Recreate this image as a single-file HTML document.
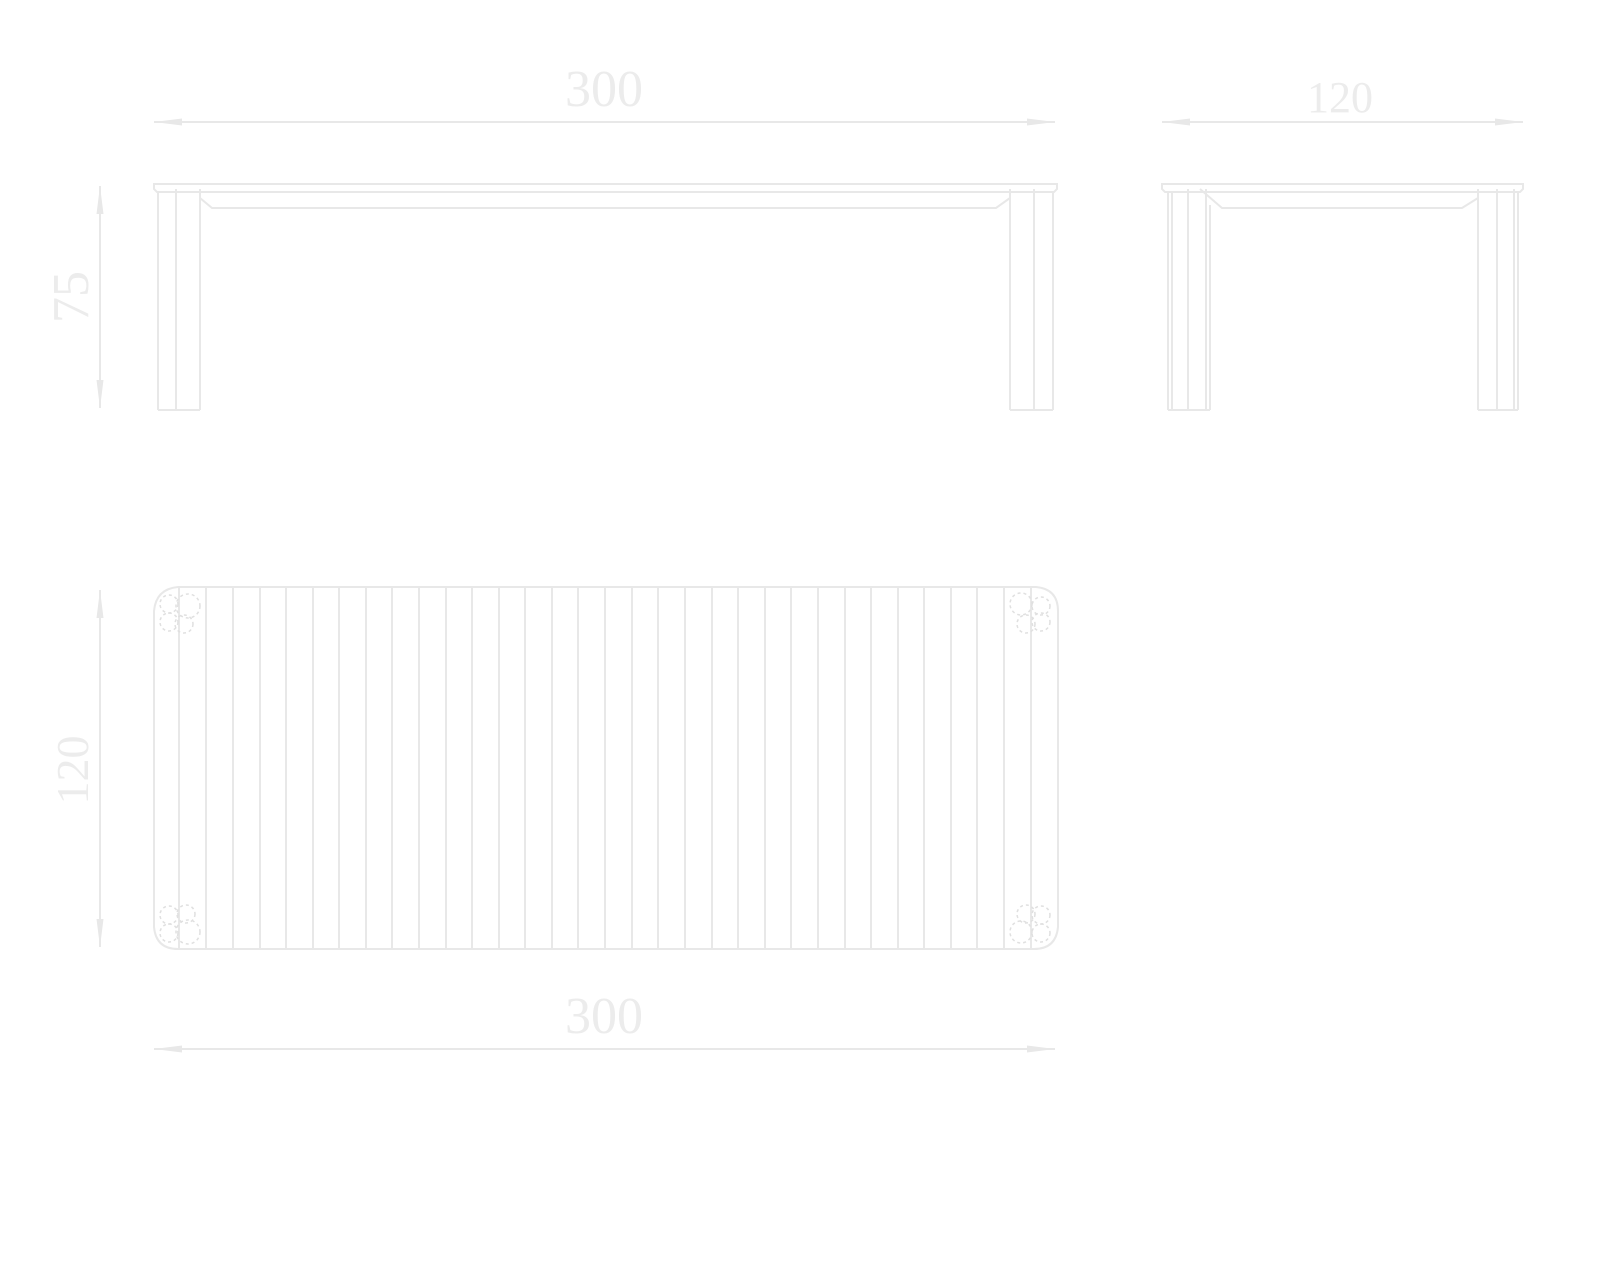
<!DOCTYPE html>
<html><head><meta charset="utf-8"><style>
html,body{margin:0;padding:0;background:#fff;width:1600px;height:1280px;overflow:hidden}
text{font-family:"Liberation Serif",serif;fill:#ececec}
</style></head><body>
<svg width="1600" height="1280" viewBox="0 0 1600 1280" xmlns="http://www.w3.org/2000/svg">
<defs>
<marker id="a" markerWidth="28" markerHeight="8" refX="0" refY="4" orient="auto" markerUnits="userSpaceOnUse">
<path d="M0,4 L28,0.5 L28,7.5 Z" fill="#e8e8e8"/></marker>
</defs>
<g stroke="#e8e8e8" stroke-width="2" fill="none">
<line x1="154" y1="122" x2="1055" y2="122" marker-start="url(#a)"/>
<path d="M1055,122 L1027,118.5 L1027,125.5Z" fill="#e8e8e8" stroke="none"/>
<line x1="1162" y1="122" x2="1523" y2="122" marker-start="url(#a)"/>
<path d="M1523,122 L1495,118.5 L1495,125.5Z" fill="#e8e8e8" stroke="none"/>
<line x1="100" y1="186" x2="100" y2="408" marker-start="url(#a)"/>
<path d="M100,408 L96.5,380 L103.5,380Z" fill="#e8e8e8" stroke="none"/>
<line x1="100" y1="590" x2="100" y2="947" marker-start="url(#a)"/>
<path d="M100,947 L96.5,919 L103.5,919Z" fill="#e8e8e8" stroke="none"/>
<line x1="154" y1="1049" x2="1055" y2="1049" marker-start="url(#a)"/>
<path d="M1055,1049 L1027,1045.5 L1027,1052.5Z" fill="#e8e8e8" stroke="none"/>

<path d="M154,184 H1057 V189 L1054,192 H157 L154,189 Z"/>
<line x1="158" y1="192" x2="158" y2="410"/>
<line x1="176" y1="189" x2="176" y2="410"/>
<line x1="200" y1="189" x2="200" y2="410"/>
<line x1="158" y1="410" x2="200" y2="410"/>
<path d="M200,198 L212,208 H996 L1010,198"/>
<line x1="1010" y1="189" x2="1010" y2="410"/>
<line x1="1034" y1="189" x2="1034" y2="410"/>
<line x1="1053" y1="192" x2="1053" y2="410"/>
<line x1="1010" y1="410" x2="1053" y2="410"/>

<path d="M1162,184 H1523 V189 L1520,192 H1165 L1162,189 Z"/>
<line x1="1168" y1="192" x2="1168" y2="410"/>
<line x1="1172" y1="192" x2="1172" y2="410"/>
<line x1="1188" y1="189" x2="1188" y2="410"/>
<line x1="1206" y1="189" x2="1206" y2="410"/>
<line x1="1210" y1="205" x2="1210" y2="410"/>
<line x1="1168" y1="410" x2="1210" y2="410"/>
<path d="M1200,189 L1222,208 H1462 L1478,198"/>
<line x1="1478" y1="189" x2="1478" y2="410"/>
<line x1="1497" y1="189" x2="1497" y2="410"/>
<line x1="1514" y1="189" x2="1514" y2="410"/>
<line x1="1518" y1="192" x2="1518" y2="410"/>
<line x1="1478" y1="410" x2="1518" y2="410"/>

<path d="M178,587 H1036 Q1058,589 1058,611 V927 Q1056,949 1034,949 H178 Q156,949 154,927 V611 Q156,589 178,587 Z"/>
</g>
<g stroke="#e8e8e8" stroke-width="2">
<line x1="179" y1="587" x2="179" y2="949"/><line x1="206" y1="587" x2="206" y2="949"/><line x1="233" y1="587" x2="233" y2="949"/><line x1="260" y1="587" x2="260" y2="949"/><line x1="286" y1="587" x2="286" y2="949"/><line x1="313" y1="587" x2="313" y2="949"/><line x1="339" y1="587" x2="339" y2="949"/><line x1="366" y1="587" x2="366" y2="949"/><line x1="392" y1="587" x2="392" y2="949"/><line x1="419" y1="587" x2="419" y2="949"/><line x1="446" y1="587" x2="446" y2="949"/><line x1="472" y1="587" x2="472" y2="949"/><line x1="499" y1="587" x2="499" y2="949"/><line x1="525" y1="587" x2="525" y2="949"/><line x1="552" y1="587" x2="552" y2="949"/><line x1="578" y1="587" x2="578" y2="949"/><line x1="605" y1="587" x2="605" y2="949"/><line x1="632" y1="587" x2="632" y2="949"/><line x1="658" y1="587" x2="658" y2="949"/><line x1="685" y1="587" x2="685" y2="949"/><line x1="712" y1="587" x2="712" y2="949"/><line x1="738" y1="587" x2="738" y2="949"/><line x1="765" y1="587" x2="765" y2="949"/><line x1="791" y1="587" x2="791" y2="949"/><line x1="818" y1="587" x2="818" y2="949"/><line x1="845" y1="587" x2="845" y2="949"/><line x1="871" y1="587" x2="871" y2="949"/><line x1="898" y1="587" x2="898" y2="949"/><line x1="924" y1="587" x2="924" y2="949"/><line x1="951" y1="587" x2="951" y2="949"/><line x1="977" y1="587" x2="977" y2="949"/><line x1="1004" y1="587" x2="1004" y2="949"/><line x1="1031" y1="587" x2="1031" y2="949"/>
</g>
<g stroke="#e0e0e0" stroke-width="1.5" fill="none" stroke-dasharray="3 3">
<circle cx="169" cy="604" r="9"/><circle cx="188" cy="606" r="12"/><circle cx="169" cy="622" r="9"/><circle cx="184" cy="624" r="9"/>
<circle cx="1021" cy="604" r="11"/><circle cx="1041" cy="606" r="9"/><circle cx="1026" cy="624" r="9"/><circle cx="1041" cy="622" r="9"/>
<circle cx="169" cy="915" r="9"/><circle cx="186" cy="914" r="9"/><circle cx="169" cy="933" r="9"/><circle cx="188" cy="932" r="12"/>
<circle cx="1026" cy="914" r="9"/><circle cx="1041" cy="915" r="9"/><circle cx="1021" cy="932" r="11"/><circle cx="1041" cy="933" r="9"/>
</g>
<text x="604" y="106" font-size="52" text-anchor="middle">300</text>
<text x="1340" y="112" font-size="44" text-anchor="middle">120</text>
<text x="604" y="1033" font-size="52" text-anchor="middle">300</text>
<text transform="translate(88,297) rotate(-90)" font-size="52" text-anchor="middle">75</text>
<text transform="translate(88,770) rotate(-90)" font-size="46" text-anchor="middle">120</text>
</svg>
</body></html>
